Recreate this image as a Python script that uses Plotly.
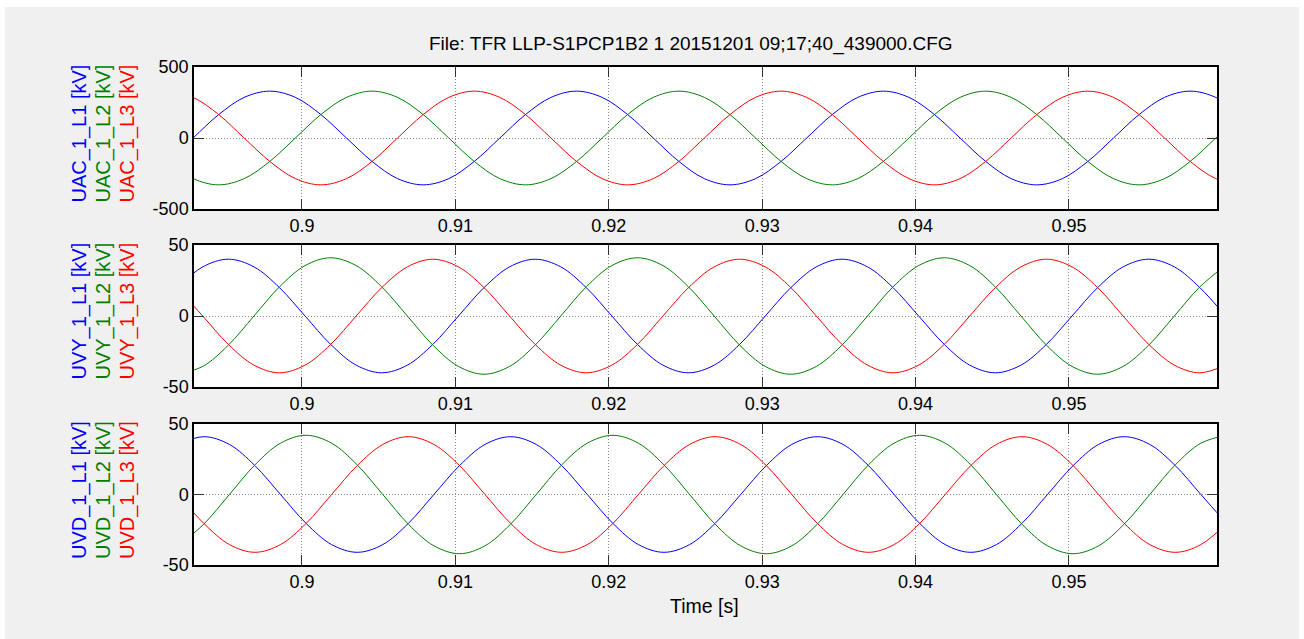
import plotly.graph_objects as go

# ---------------- data ----------------
# time samples [s]
t_uac = [0.89123, 0.89290, 0.89457, 0.89623, 0.89790, 0.89957,
         0.90123, 0.90290, 0.90457, 0.90623, 0.90790, 0.90957,
         0.91123, 0.91290, 0.91457, 0.91623, 0.91790, 0.91957,
         0.92123, 0.92290, 0.92457, 0.92623, 0.92790, 0.92957,
         0.93123, 0.93290, 0.93457, 0.93623, 0.93790, 0.93957,
         0.94123, 0.94290, 0.94457, 0.94623, 0.94790, 0.94957,
         0.95123, 0.95290, 0.95457, 0.95623, 0.95790, 0.95957,
         0.96123]
t_uvy = [0.89187, 0.89353, 0.89520, 0.89687, 0.89853, 0.90020,
         0.90187, 0.90353, 0.90520, 0.90687, 0.90853, 0.91020,
         0.91187, 0.91353, 0.91520, 0.91687, 0.91853, 0.92020,
         0.92187, 0.92353, 0.92520, 0.92687, 0.92853, 0.93020,
         0.93187, 0.93353, 0.93520, 0.93687, 0.93853, 0.94020,
         0.94187, 0.94353, 0.94520, 0.94687, 0.94853, 0.95020,
         0.95187, 0.95353, 0.95520, 0.95687, 0.95853, 0.96020]
t_uvd = [0.89193, 0.89360, 0.89527, 0.89693, 0.89860, 0.90027,
         0.90193, 0.90360, 0.90527, 0.90693, 0.90860, 0.91027,
         0.91193, 0.91360, 0.91527, 0.91693, 0.91860, 0.92027,
         0.92193, 0.92360, 0.92527, 0.92693, 0.92860, 0.93027,
         0.93193, 0.93360, 0.93527, 0.93693, 0.93860, 0.94027,
         0.94193, 0.94360, 0.94527, 0.94693, 0.94860, 0.95027,
         0.95193, 0.95360, 0.95527, 0.95693, 0.95860, 0.96027]

# UAC [kV]
uac_l1 = [-165, 0, 165, 286, 330, 286, 165, 0, -165, -286, -330, -286, -165,
          0, 165, 286, 330, 286, 165, 0, -165, -286, -330, -286, -165,
          0, 165, 286, 330, 286, 165, 0, -165, -286, -330, -286, -165,
          0, 165, 286, 330, 286, 165]
uac_l2 = [-165, -286, -330, -286, -165,
          0, 165, 286, 330, 286, 165, 0, -165, -286, -330, -286, -165,
          0, 165, 286, 330, 286, 165, 0, -165, -286, -330, -286, -165,
          0, 165, 286, 330, 286, 165, 0, -165, -286, -330, -286, -165,
          0, 165]
uac_l3 = [330, 286, 165, 0, -165, -286, -330, -286, -165,
          0, 165, 286, 330, 286, 165, 0, -165, -286, -330, -286, -165,
          0, 165, 286, 330, 286, 165, 0, -165, -286, -330, -286, -165,
          0, 165, 286, 330, 286, 165, 0, -165, -286, -330]

# UVY [kV]
uvy_l1 = [20, 34.6, 40, 34.6, 20, 0, -20, -34.6, -40, -34.6, -20,
          0, 20, 34.6, 40, 34.6, 20, 0, -20, -34.6, -40, -34.6, -20,
          0, 20, 34.6, 40, 34.6, 20, 0, -20, -34.6, -40, -34.6, -20,
          0, 20, 34.6, 40, 34.6, 20, 0]
uvy_l2 = [-41, -35.5, -20.5,
          0, 20.5, 35.5, 41, 35.5, 20.5, 0, -20.5, -35.5, -41, -35.5, -20.5,
          0, 20.5, 35.5, 41, 35.5, 20.5, 0, -20.5, -35.5, -41, -35.5, -20.5,
          0, 20.5, 35.5, 41, 35.5, 20.5, 0, -20.5, -35.5, -41, -35.5, -20.5,
          0, 20.5, 35.5]
uvy_l3 = [20, 0, -20, -34.6, -40, -34.6, -20,
          0, 20, 34.6, 40, 34.6, 20, 0, -20, -34.6, -40, -34.6, -20,
          0, 20, 34.6, 40, 34.6, 20, 0, -20, -34.6, -40, -34.6, -20,
          0, 20, 34.6, 40, 34.6, 20, 0, -20, -34.6, -40, -34.6]

# UVD [kV]
uvd_l1 = [35.5, 41, 35.5, 20.5, 0, -20.5, -35.5, -41, -35.5, -20.5,
          0, 20.5, 35.5, 41, 35.5, 20.5, 0, -20.5, -35.5, -41, -35.5, -20.5,
          0, 20.5, 35.5, 41, 35.5, 20.5, 0, -20.5, -35.5, -41, -35.5, -20.5,
          0, 20.5, 35.5, 41, 35.5, 20.5, 0, -20.5]
uvd_l2 = [-36.4, -21,
          0, 21, 36.4, 42, 36.4, 21, 0, -21, -36.4, -42, -36.4, -21,
          0, 21, 36.4, 42, 36.4, 21, 0, -21, -36.4, -42, -36.4, -21,
          0, 21, 36.4, 42, 36.4, 21, 0, -21, -36.4, -42, -36.4, -21,
          0, 21, 36.4, 42]
uvd_l3 = [0, -20.5, -35.5, -41, -35.5, -20.5,
          0, 20.5, 35.5, 41, 35.5, 20.5, 0, -20.5, -35.5, -41, -35.5, -20.5,
          0, 20.5, 35.5, 41, 35.5, 20.5, 0, -20.5, -35.5, -41, -35.5, -20.5,
          0, 20.5, 35.5, 41, 35.5, 20.5, 0, -20.5, -35.5, -41, -35.5, -20.5]

x_tickvals = [0.90, 0.91, 0.92, 0.93, 0.94, 0.95]
x_ticktext = ["0.9", "0.91", "0.92", "0.93", "0.94", "0.95"]
x_range = [0.89296, 0.95965]

panel_names = ["UAC_1", "UVY_1", "UVD_1"]
y_tickvals = [[-500, 0, 500], [-50, 0, 50], [-50, 0, 50]]
y_ranges = [[-500, 500], [-50, 50], [-50, 50]]
title_text = "File: TFR LLP-S1PCP1B2 1 20151201 09;17;40_439000.CFG"
xlabel_text = "Time [s]"

phase_names = ["L1", "L2", "L3"]
phase_colors = ["#0000ff", "#008000", "#ff0000"]

# ---------------- figure ----------------
FONT = "Liberation Sans, Arial, sans-serif"
fig = go.Figure()

times = [t_uac, t_uvy, t_uvd]
series = [[uac_l1, uac_l2, uac_l3], [uvy_l1, uvy_l2, uvy_l3], [uvd_l1, uvd_l2, uvd_l3]]

for p in range(3):
    sfx = "" if p == 0 else str(p + 1)
    for s in range(3):
        fig.add_trace(go.Scatter(
            x=times[p], y=series[p][s], mode="lines",
            line=dict(color=phase_colors[s], width=1, shape="spline"),
            xaxis="x" + sfx, yaxis="y" + sfx, showlegend=False,
            name=f"{panel_names[p]}_{phase_names[s]}"))

# pixel geometry
W, H = 1304, 639
L, R, T, B = 194, 87, 67, 74
pw, ph = W - L - R, H - T - B
panels_px = [(67, 209), (245, 387), (424, 565)]


def py(px):
    return (H - B - px) / ph


def pxx(px):
    return (px - L) / pw


axis_common = dict(
    showline=True, linecolor="black", linewidth=1.5, mirror="allticks",
    ticks="inside", ticklen=10, tickwidth=1, tickcolor="#333333",
    showgrid=True, gridcolor="#8a8a8a", griddash="1px,2px", gridwidth=1,
    zeroline=False,
    tickfont=dict(family=FONT, size=18, color="black"),
)

layout = dict(
    width=W, height=H,
    margin=dict(l=L, r=R, t=T, b=B),
    paper_bgcolor="#f0f0f0", plot_bgcolor="white",
    showlegend=False,
    font=dict(family=FONT, color="black"),
)

annotations = []
for p in range(3):
    sfx = "" if p == 0 else str(p + 1)
    top_px, bot_px = panels_px[p]
    dom = [py(bot_px), py(top_px)]
    layout["xaxis" + sfx] = dict(
        axis_common, domain=[0, 1], range=x_range, anchor="y" + sfx,
        tickvals=x_tickvals, ticktext=x_ticktext)
    layout["yaxis" + sfx] = dict(
        axis_common, domain=dom, range=y_ranges[p], anchor="x" + sfx,
        tickvals=y_tickvals[p], ticktext=[str(v) for v in y_tickvals[p]])
    yc = py((top_px + bot_px) / 2 - 4.5)
    for s in range(3):
        annotations.append(dict(
            text=f"{panel_names[p]}_{phase_names[s]} [kV]",
            xref="paper", yref="paper", x=pxx(79 + 24 * s), y=yc,
            xanchor="center", yanchor="middle", textangle=-90, showarrow=False,
            font=dict(family=FONT, size=20, color=phase_colors[s])))

annotations.append(dict(
    text=title_text, xref="paper", yref="paper", x=pxx(691), y=py(44),
    xanchor="center", yanchor="middle", showarrow=False,
    font=dict(family=FONT, size=19, color="black")))
annotations.append(dict(
    text=xlabel_text, xref="paper", yref="paper", x=pxx(704), y=py(606),
    xanchor="center", yanchor="middle", showarrow=False,
    font=dict(family=FONT, size=19.5, color="black")))
layout["annotations"] = annotations

# white page border around the grey figure area
layout["shapes"] = [
    dict(type="rect", xref="paper", yref="paper", x0=-0.3, x1=1.3,
         y0=py(7), y1=py(-20), fillcolor="white", line=dict(width=0), layer="below"),
    dict(type="rect", xref="paper", yref="paper", x0=-0.3, x1=pxx(5),
         y0=py(700), y1=py(-20), fillcolor="white", line=dict(width=0), layer="below"),
    dict(type="rect", xref="paper", yref="paper", x0=pxx(1299), x1=1.3,
         y0=py(700), y1=py(-20), fillcolor="white", line=dict(width=0), layer="below"),
]

fig.update_layout(**layout)
fig.write_html("out.html")
